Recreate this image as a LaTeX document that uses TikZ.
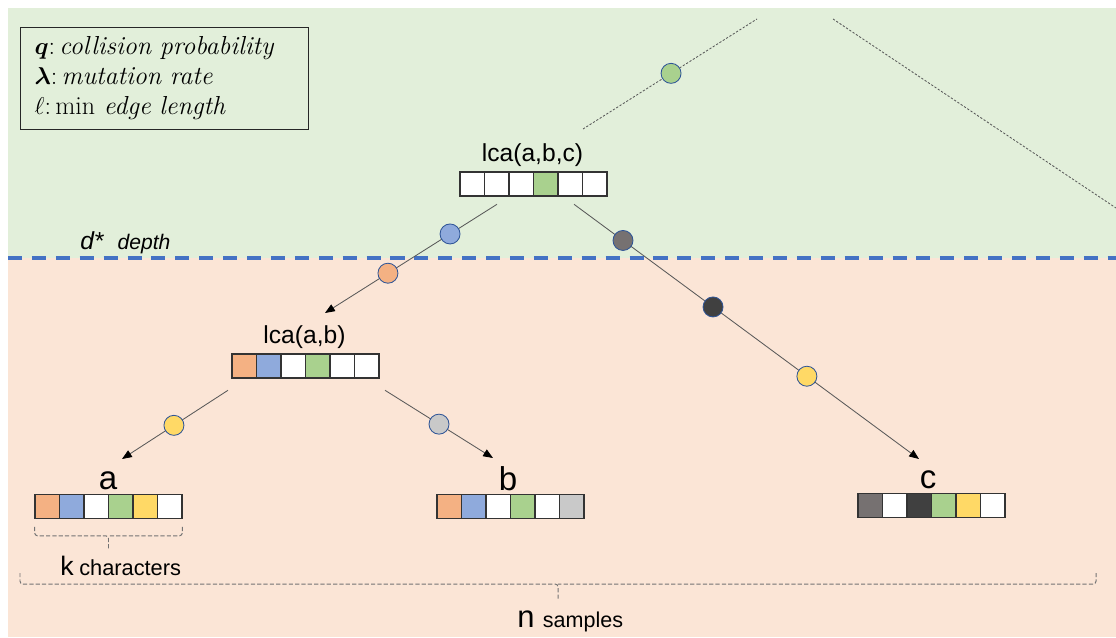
\documentclass[tikz,border=0pt]{standalone}
\usepackage{amsmath,amssymb,bm}
\usepackage{fontspec}
\setsansfont{Liberation Sans}
\usepackage{tikz}
\usetikzlibrary{arrows.meta, positioning, calc}
\definecolor{BgGreen}{RGB}{226,239,218}
\definecolor{BgPink}{RGB}{251,229,214}
\definecolor{DepthBlue}{RGB}{68,114,196}
\definecolor{MutGreen}{RGB}{169,209,142}
\definecolor{MutBlue}{RGB}{143,170,220}
\definecolor{MutOrange}{RGB}{244,177,131}
\definecolor{MutYellow}{RGB}{255,217,102}
\definecolor{MutLight}{RGB}{201,201,201}
\definecolor{MutGray}{RGB}{118,113,113}
\definecolor{MutDark}{RGB}{64,64,64}
\definecolor{EdgeGray}{RGB}{89,89,89}
\definecolor{RingBlue}{RGB}{47,85,151}

% one row of k characters: name, centre, colours
\newcommand{\charrow}[3]{%
  \node[rowbox] (#1) at #2 {};
  \foreach \col [count=\i] in {#3}
    \node[cell,fill=\col] at ([shift={({(\i-3.5)*24.5},0)}]#1.center) {};
}

\begin{document}
\begin{tikzpicture}[x=0.025cm,y=-0.025cm,
    cell/.style={draw=black!80,line width=0.8pt,minimum width=0.6125cm,
                 minimum height=0.6cm,inner sep=0pt},
    rowbox/.style={minimum width=3.675cm,minimum height=0.6cm,inner sep=0pt},
    mut/.style={circle,solid,draw=RingBlue,line width=0.6pt,minimum size=0.5cm,inner sep=0pt},
    lbl/.style={font=\sffamily\fontsize{17.5}{20}\selectfont,inner sep=0pt,anchor=base},
    leaf/.style={font=\sffamily\fontsize{23.5}{26}\selectfont,inner sep=0pt,anchor=base},
    edge/.style={draw=EdgeGray,line width=0.6pt},
    arr/.style={edge,-{Triangle[length=7pt,width=5.5pt,color=black]}},
    far/.style={draw=EdgeGray,line width=0.6pt,dash pattern=on 1.6pt off 1.2pt},
    bracket/.style={draw=black!55,line width=0.7pt,dash pattern=on 3pt off 1.5pt,
                    rounded corners=2pt}
  ]
    \useasboundingbox (0,0) rectangle (1116,637);
    % background: above and below depth d*
    \fill[BgGreen] (8,8) rectangle (1116,258);
    \fill[BgPink] (8,258) rectangle (1116,637);
    \draw[DepthBlue,line width=2.2pt,dash pattern=on 10pt off 7pt] (8,258) -- (1116,258);
    \node[anchor=base west,inner sep=0pt,font=\sffamily\itshape] (depth) at (80,249)
      {{\fontsize{17.5}{20}\selectfont d*}\hspace{10pt}{\fontsize{15}{17}\selectfont depth}};

    % legend
    \node[draw=black!85,line width=0.8pt,anchor=north west,text width=6.5cm,
          inner xsep=0.35cm,minimum height=2.55cm,align=left,
          font=\fontsize{18.5}{21.3}\selectfont] (legend) at (20,27)
      {$\bm{q}$:\,\textit{collision probability}\\
       $\bm{\lambda}$:\,\textit{mutation rate}\\
       $\ell$:\,min \textit{edge length}};

    % rows of characters
    \charrow{abc}{(533.5,184)}{white,white,white,MutGreen,white,white}
    \charrow{ab}{(305.5,366)}{MutOrange,MutBlue,white,MutGreen,white,white}
    \charrow{ra}{(108.5,506.5)}{MutOrange,MutBlue,white,MutGreen,MutYellow,white}
    \charrow{rb}{(510.5,506.5)}{MutOrange,MutBlue,white,MutGreen,white,MutLight}
    \charrow{rc}{(931.5,505.5)}{MutGray,white,MutDark,MutGreen,MutYellow,white}

    \node[lbl] (labc) at (532.5,161) {lca(a,b,c)};
    \node[lbl] (lab) at (304.5,343) {lca(a,b)};
    \node[leaf] (la) at (108,489) {a};
    \node[leaf] (lb) at (508,490) {b};
    \node[leaf] (lc) at (928,488) {c};

    % rest of the tree
    \coordinate (rootL) at (757,19);
    \coordinate (rootR) at (833,19);
    \coordinate (sib) at (1116,208);
    \draw[far] ([shift={(50.5,-32)}]labc.base) -- node[mut,fill=MutGreen,pos=0.506]{} (rootL);
    \draw[far] (rootR) -- (sib);

    % edges with mutations
    \draw[arr] ([shift={(-36.5,8)}]abc.south) --
      node[mut,fill=MutBlue,pos=0.273]{} node[mut,fill=MutOrange,pos=0.634]{}
      ([shift={(20.5,-30)}]lab.base);
    \draw[arr] ([shift={(40.5,8)}]abc.south) --
      node[mut,fill=MutGray,pos=0.142]{} node[mut,fill=MutDark,pos=0.403]{}
      node[mut,fill=MutYellow,pos=0.675]{}
      ([shift={(-9,-29)}]lc.base);
    \draw[arr] ([shift={(-77.5,12)}]ab.south) --
      node[mut,fill=MutYellow,pos=0.51]{} ([shift={(14,-30)}]la.base);
    \draw[arr] ([shift={(79.5,12)}]ab.south) --
      node[mut,fill=MutLight,pos=0.5]{} ([shift={(-15,-32)}]lb.base);

    % k and n brackets
    \draw[bracket] ([shift={(0,8)}]ra.south west) |- ([shift={(0,17)}]ra.south) -- ++(0,14);
    \draw[bracket] ([shift={(0,8)}]ra.south east) |- ([shift={(0,17)}]ra.south);
    \node[anchor=base west,inner sep=0pt,font=\sffamily] (kchar) at (60,575)
      {{\fontsize{19}{22}\selectfont k}\hspace{4pt}{\fontsize{15.5}{18}\selectfont characters}};
    \draw[bracket] (20,573) |- (558,584) -- (558,600);
    \draw[bracket] (1096,573) |- (558,584);
    \node[anchor=base west,inner sep=0pt,font=\sffamily] (nsamp) at (517,627)
      {{\fontsize{22}{25}\selectfont n}\hspace{6pt}{\fontsize{15.3}{18}\selectfont samples}};
  \end{tikzpicture}
\end{document}
